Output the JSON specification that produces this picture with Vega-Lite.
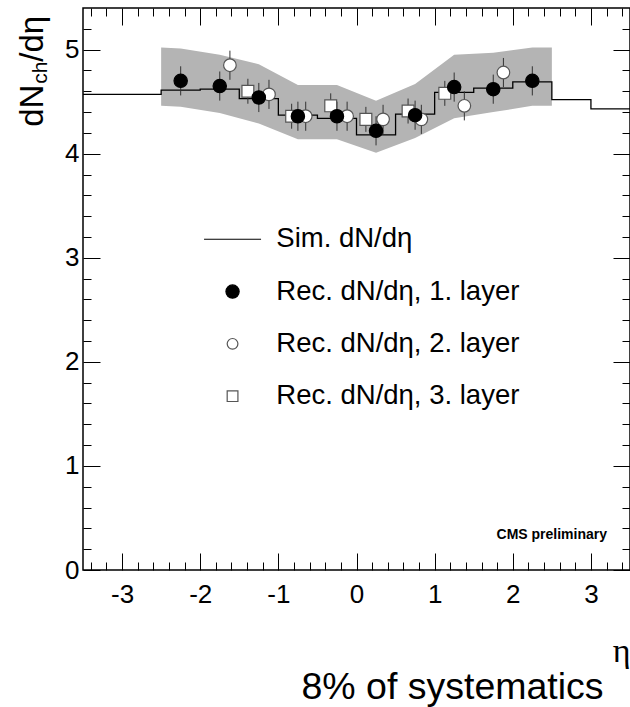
{
  "$schema": "https://vega.github.io/schema/vega-lite/v6.json",
  "width": 547,
  "height": 562,
  "autosize": "none",
  "padding": {"left": 83, "top": 8, "right": 0, "bottom": 137},
  "background": "white",
  "view": {"stroke": "black", "strokeWidth": 1.5, "fill": "white"},
  "config": {
    "font": "Liberation Sans",
    "legend": {"orient": "none", "legendX": 135.8, "legendY": 217.5, "padding": 0, "labelFont": "Liberation Sans", "labelFontSize": 27.5, "labelColor": "black", "labelOffset": 30, "rowPadding": 23.3, "symbolSize": 175, "symbolStrokeWidth": 1.2, "symbolOpacity": 1, "labelLimit": 0}
  },
  "title": {"text": "8% of systematics", "orient": "bottom", "anchor": "end", "dx": -29, "fontSize": 37.5, "font": "Liberation Sans", "fontWeight": "normal", "color": "black", "offset": 1},
  "datasets": {
    "sim": [
      {"eta": -3.5, "dndeta": 4.57, "series": "Sim. dN/dη"},
      {"eta": -3.0, "dndeta": 4.57, "series": "Sim. dN/dη"},
      {"eta": -2.5, "dndeta": 4.61, "series": "Sim. dN/dη"},
      {"eta": -2.0, "dndeta": 4.62, "series": "Sim. dN/dη"},
      {"eta": -1.5, "dndeta": 4.53, "series": "Sim. dN/dη"},
      {"eta": -1.0, "dndeta": 4.37, "series": "Sim. dN/dη"},
      {"eta": -0.5, "dndeta": 4.34, "series": "Sim. dN/dη"},
      {"eta": 0.0, "dndeta": 4.18, "series": "Sim. dN/dη"},
      {"eta": 0.5, "dndeta": 4.38, "series": "Sim. dN/dη"},
      {"eta": 1.0, "dndeta": 4.59, "series": "Sim. dN/dη"},
      {"eta": 1.5, "dndeta": 4.63, "series": "Sim. dN/dη"},
      {"eta": 2.0, "dndeta": 4.69, "series": "Sim. dN/dη"},
      {"eta": 2.5, "dndeta": 4.52, "series": "Sim. dN/dη"},
      {"eta": 3.0, "dndeta": 4.43, "series": "Sim. dN/dη"},
      {"eta": 3.5, "dndeta": 4.43, "series": "Sim. dN/dη"}
    ],
    "band": [
      {"eta": -2.5, "lo": 4.46, "hi": 5.02},
      {"eta": -2.25, "lo": 4.45, "hi": 5.01},
      {"eta": -1.75, "lo": 4.39, "hi": 4.95},
      {"eta": -1.25, "lo": 4.29, "hi": 4.86},
      {"eta": -0.75, "lo": 4.14, "hi": 4.66},
      {"eta": -0.25, "lo": 4.14, "hi": 4.66},
      {"eta": 0.25, "lo": 4.01, "hi": 4.51},
      {"eta": 0.75, "lo": 4.15, "hi": 4.67},
      {"eta": 1.25, "lo": 4.34, "hi": 4.95},
      {"eta": 1.75, "lo": 4.40, "hi": 4.97},
      {"eta": 2.25, "lo": 4.46, "hi": 5.02},
      {"eta": 2.5, "lo": 4.46, "hi": 5.02}
    ],
    "rec": [
      {"eta": -1.39, "dndeta": 4.60, "lo": 4.48, "hi": 4.72, "series": "Rec. dN/dη, 3. layer"},
      {"eta": -0.83, "dndeta": 4.36, "lo": 4.24, "hi": 4.48, "series": "Rec. dN/dη, 3. layer"},
      {"eta": -0.33, "dndeta": 4.46, "lo": 4.34, "hi": 4.58, "series": "Rec. dN/dη, 3. layer"},
      {"eta": 0.12, "dndeta": 4.33, "lo": 4.21, "hi": 4.45, "series": "Rec. dN/dη, 3. layer"},
      {"eta": 0.66, "dndeta": 4.41, "lo": 4.29, "hi": 4.53, "series": "Rec. dN/dη, 3. layer"},
      {"eta": 1.13, "dndeta": 4.58, "lo": 4.46, "hi": 4.70, "series": "Rec. dN/dη, 3. layer"},
      {"eta": -1.62, "dndeta": 4.85, "lo": 4.71, "hi": 4.99, "series": "Rec. dN/dη, 2. layer"},
      {"eta": -1.12, "dndeta": 4.57, "lo": 4.43, "hi": 4.71, "series": "Rec. dN/dη, 2. layer"},
      {"eta": -0.65, "dndeta": 4.36, "lo": 4.22, "hi": 4.50, "series": "Rec. dN/dη, 2. layer"},
      {"eta": -0.12, "dndeta": 4.36, "lo": 4.22, "hi": 4.50, "series": "Rec. dN/dη, 2. layer"},
      {"eta": 0.34, "dndeta": 4.33, "lo": 4.19, "hi": 4.47, "series": "Rec. dN/dη, 2. layer"},
      {"eta": 0.83, "dndeta": 4.33, "lo": 4.19, "hi": 4.47, "series": "Rec. dN/dη, 2. layer"},
      {"eta": 1.38, "dndeta": 4.46, "lo": 4.32, "hi": 4.60, "series": "Rec. dN/dη, 2. layer"},
      {"eta": 1.88, "dndeta": 4.78, "lo": 4.64, "hi": 4.92, "series": "Rec. dN/dη, 2. layer"},
      {"eta": -2.25, "dndeta": 4.70, "lo": 4.56, "hi": 4.84, "series": "Rec. dN/dη, 1. layer"},
      {"eta": -1.75, "dndeta": 4.65, "lo": 4.51, "hi": 4.79, "series": "Rec. dN/dη, 1. layer"},
      {"eta": -1.25, "dndeta": 4.54, "lo": 4.40, "hi": 4.68, "series": "Rec. dN/dη, 1. layer"},
      {"eta": -0.75, "dndeta": 4.36, "lo": 4.22, "hi": 4.50, "series": "Rec. dN/dη, 1. layer"},
      {"eta": -0.25, "dndeta": 4.36, "lo": 4.22, "hi": 4.50, "series": "Rec. dN/dη, 1. layer"},
      {"eta": 0.25, "dndeta": 4.22, "lo": 4.08, "hi": 4.36, "series": "Rec. dN/dη, 1. layer"},
      {"eta": 0.75, "dndeta": 4.37, "lo": 4.23, "hi": 4.51, "series": "Rec. dN/dη, 1. layer"},
      {"eta": 1.25, "dndeta": 4.64, "lo": 4.50, "hi": 4.78, "series": "Rec. dN/dη, 1. layer"},
      {"eta": 1.75, "dndeta": 4.62, "lo": 4.48, "hi": 4.76, "series": "Rec. dN/dη, 1. layer"},
      {"eta": 2.25, "dndeta": 4.70, "lo": 4.56, "hi": 4.84, "series": "Rec. dN/dη, 1. layer"}
    ]
  },
  "resolve": {"axis": {"x": "independent", "y": "independent"}},
  "layer": [
    {
      "data": {"name": "band"},
      "mark": {"type": "area", "color": "#b4b4b4", "opacity": 1},
      "encoding": {
        "x": {"field": "eta", "type": "quantitative", "scale": {"domain": [-3.5, 3.5], "nice": false, "zero": false},
          "axis": {"orient": "bottom", "values": [-3.4,-3.2,-3,-2.8,-2.6,-2.4,-2.2,-2,-1.8,-1.6,-1.4,-1.2,-1,-0.8,-0.6,-0.4,-0.2,0,0.2,0.4,0.6,0.8,1,1.2,1.4,1.6,1.8,2,2.2,2.4,2.6,2.8,3,3.2,3.4],
            "domain": false, "grid": false, "ticks": true, "tickColor": "black", "tickWidth": 1,
            "tickSize": {"condition": {"test": "abs(datum.value-round(datum.value))<0.001", "value": -17}, "value": -8},
            "labelExpr": "abs(datum.value-round(datum.value))<0.001 ? ''+round(datum.value) : ''",
            "labelFont": "Liberation Sans", "labelFontSize": 26, "labelColor": "black", "labelPadding": 28, "labelFlush": false, "labelOverlap": false,
            "title": "η", "titleFont": "Liberation Serif", "titleFontSize": 34, "titleFontWeight": "normal", "titleColor": "black", "titleAnchor": "end", "titleAlign": "right", "titlePadding": 18}},
        "y": {"field": "lo", "type": "quantitative", "scale": {"domain": [0, 5.4], "nice": false, "zero": false},
          "axis": {"orient": "left", "values": [0,0.2,0.4,0.6,0.8,1,1.2,1.4,1.6,1.8,2,2.2,2.4,2.6,2.8,3,3.2,3.4,3.6,3.8,4,4.2,4.4,4.6,4.8,5,5.2],
            "domain": false, "grid": false, "ticks": true, "tickColor": "black", "tickWidth": 1,
            "tickSize": {"condition": {"test": "abs(datum.value-round(datum.value))<0.001", "value": -17}, "value": -8},
            "labelExpr": "abs(datum.value-round(datum.value))<0.001 ? ''+round(datum.value) : ''",
            "labelFont": "Liberation Sans", "labelFontSize": 26, "labelColor": "black", "labelPadding": 21, "labelFlush": false, "labelOverlap": false, "labelBaseline": "middle",
            "title": null}},
        "y2": {"field": "hi"}
      }
    },
    {
      "data": {"name": "sim"},
      "mark": {"type": "line", "interpolate": "step-after", "strokeWidth": 1.3},
      "encoding": {
        "x": {"field": "eta", "type": "quantitative",
          "axis": {"orient": "top", "values": [-3.4,-3.2,-3,-2.8,-2.6,-2.4,-2.2,-2,-1.8,-1.6,-1.4,-1.2,-1,-0.8,-0.6,-0.4,-0.2,0,0.2,0.4,0.6,0.8,1,1.2,1.4,1.6,1.8,2,2.2,2.4,2.6,2.8,3,3.2,3.4],
            "domain": false, "grid": false, "labels": false, "tickColor": "black", "tickWidth": 1,
            "tickSize": {"condition": {"test": "abs(datum.value-round(datum.value))<0.001", "value": -17}, "value": -8}, "title": null}},
        "y": {"field": "dndeta", "type": "quantitative",
          "axis": {"orient": "right", "values": [0,0.2,0.4,0.6,0.8,1,1.2,1.4,1.6,1.8,2,2.2,2.4,2.6,2.8,3,3.2,3.4,3.6,3.8,4,4.2,4.4,4.6,4.8,5,5.2],
            "domain": false, "grid": false, "labels": false, "tickColor": "black", "tickWidth": 1,
            "tickSize": {"condition": {"test": "abs(datum.value-round(datum.value))<0.001", "value": -17}, "value": -8}, "title": null}},
        "stroke": {"field": "series", "type": "nominal",
          "scale": {"domain": ["Sim. dN/dη", "Rec. dN/dη, 1. layer", "Rec. dN/dη, 2. layer", "Rec. dN/dη, 3. layer"], "range": ["black", "black", "#555555", "#555555"]},
          "legend": {"title": null, "encode": {"symbols": {"update": {"size": {"signal": "datum.value === 'Sim. dN/dη' ? 3249 : datum.value === 'Rec. dN/dη, 1. layer' ? 175 : 115"}}}}}}
      }
    },
    {
      "data": {"name": "rec"},
      "mark": {"type": "rule", "color": "#333333", "strokeWidth": 1},
      "encoding": {
        "x": {"field": "eta", "type": "quantitative", "axis": null},
        "y": {"field": "lo", "type": "quantitative", "axis": null},
        "y2": {"field": "hi"}
      }
    },
    {
      "data": {"name": "rec"},
      "mark": {"type": "point", "opacity": 1, "strokeWidth": 1.2},
      "encoding": {
        "x": {"field": "eta", "type": "quantitative", "axis": null},
        "y": {"field": "dndeta", "type": "quantitative", "axis": null},
        "shape": {"field": "series", "type": "nominal",
          "scale": {"domain": ["Sim. dN/dη", "Rec. dN/dη, 1. layer", "Rec. dN/dη, 2. layer", "Rec. dN/dη, 3. layer"], "range": ["stroke", "circle", "circle", "square"]},
          "legend": {"title": null, "encode": {"symbols": {"update": {"size": {"signal": "datum.value === 'Sim. dN/dη' ? 3249 : datum.value === 'Rec. dN/dη, 1. layer' ? 175 : 115"}}}}}},
        "fill": {"field": "series", "type": "nominal",
          "scale": {"domain": ["Sim. dN/dη", "Rec. dN/dη, 1. layer", "Rec. dN/dη, 2. layer", "Rec. dN/dη, 3. layer"], "range": ["transparent", "black", "white", "white"]},
          "legend": {"title": null}},
        "stroke": {"field": "series", "type": "nominal", "legend": {"title": null}},
        "size": {"field": "series", "type": "nominal",
          "scale": {"domain": ["Rec. dN/dη, 1. layer", "Rec. dN/dη, 2. layer", "Rec. dN/dη, 3. layer"], "range": [178, 140]},
          "legend": null}
      }
    },
    {
      "data": {"values": [{"label": "CMS preliminary"}]},
      "mark": {"type": "text", "align": "right", "baseline": "alphabetic", "font": "Liberation Sans", "fontWeight": "bold", "fontSize": 14, "color": "black"},
      "encoding": {
        "x": {"datum": 3.206, "type": "quantitative", "axis": null},
        "y": {"datum": 0.30, "type": "quantitative", "axis": null},
        "text": {"field": "label"}
      }
    },
    {
      "data": {"values": [{"label": "dN"}]},
      "mark": {"type": "text", "angle": 270, "align": "left", "baseline": "alphabetic", "font": "Liberation Sans", "fontSize": 33, "color": "black"},
      "encoding": {
        "x": {"datum": -4.012, "type": "quantitative", "axis": null},
        "y": {"datum": 4.258, "type": "quantitative", "axis": null},
        "text": {"field": "label"}
      }
    },
    {
      "data": {"values": [{"label": "ch"}]},
      "mark": {"type": "text", "angle": 270, "align": "left", "baseline": "alphabetic", "font": "Liberation Sans", "fontSize": 21, "color": "black"},
      "encoding": {
        "x": {"datum": -3.96, "type": "quantitative", "axis": null},
        "y": {"datum": 4.672, "type": "quantitative", "axis": null},
        "text": {"field": "label"}
      }
    },
    {
      "data": {"values": [{"label": "/dη"}]},
      "mark": {"type": "text", "angle": 270, "align": "left", "baseline": "alphabetic", "font": "Liberation Sans", "fontSize": 33, "color": "black"},
      "encoding": {
        "x": {"datum": -4.012, "type": "quantitative", "axis": null},
        "y": {"datum": 4.884, "type": "quantitative", "axis": null},
        "text": {"field": "label"}
      }
    }
  ]
}
